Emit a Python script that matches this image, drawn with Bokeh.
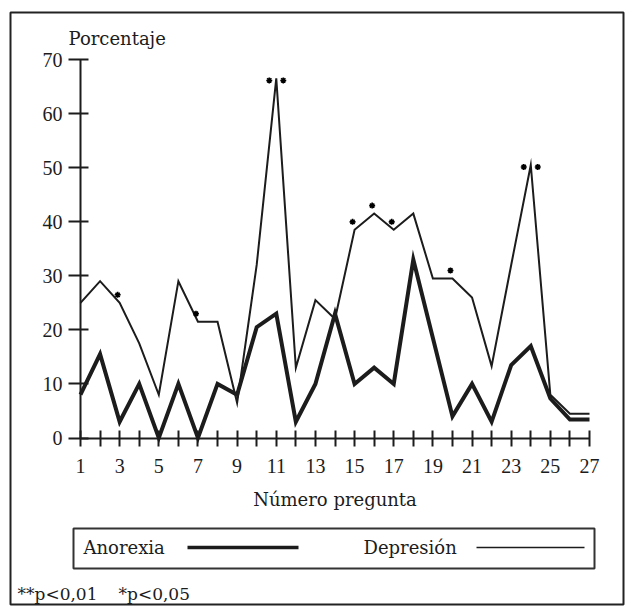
from bokeh.plotting import figure
from bokeh.models import Range1d, FixedTicker, Label, BoxAnnotation, Arrow, ColumnDataSource
from bokeh.embed import file_html
from bokeh.resources import INLINE

# ---- data ----
preguntas = list(range(1, 28))
anorexia = [8, 15.5, 3, 10, 0, 10, 0, 10, 8, 20.5, 23, 3, 10, 23, 10, 13, 10, 33,
            18.5, 4, 10, 3, 13.5, 17, 7.3, 3.4, 3.4]
depresion = [25, 29, 25, 17.5, 8, 29, 21.5, 21.5, 6.5, 32, 66.5, 13, 25.5, 22, 38.5,
             41.5, 38.5, 41.5, 29.5, 29.5, 26, 13.3, 32, 50.5, 8, 4.5, 4.5]
sig_p05 = [3, 7, 15, 16, 17, 20]      # "*"  p<0,05
sig_p01 = [11, 24]                     # "**" p<0,01
y_ticks = [0, 10, 20, 30, 40, 50, 60, 70]
x_tick_labels = {n: (str(n) if n % 2 == 1 else "") for n in preguntas}
y_title = "Porcentaje"
x_title = "Número pregunta"
series_names = ["Anorexia", "Depresión"]
footnotes = ["**p<0,01", "*p<0,05"]

# ---- layout (canvas pixels) ----
W, H = 626, 612
AX_X0, AX_X1 = 80.0, 589.0     # pixel of question 1 and 27
AX_Y0, AX_Y70 = 437.5, 59.0    # pixel of 0 % and 70 %
INK = "#1c1c1c"
WORD_FONT = "DejaVu Serif"
NUM_FONT = "Liberation Serif"

q0, q1 = preguntas[0], preguntas[-1]
ppx = (AX_X1 - AX_X0) / (q1 - q0)
ppy = (AX_Y0 - AX_Y70) / (y_ticks[-1] - y_ticks[0])
x_range = Range1d(q0 - AX_X0 / ppx, q1 + (W - AX_X1) / ppx)
y_range = Range1d(y_ticks[0] - (H - AX_Y0) / ppy, y_ticks[-1] + AX_Y70 / ppy)

p = figure(width=W, height=H, output_backend="svg", toolbar_location=None,
           x_range=x_range, y_range=y_range, min_border=0,
           min_border_left=0, min_border_right=0, min_border_top=0, min_border_bottom=0)
p.background_fill_color = "white"
p.border_fill_color = "white"
p.outline_line_color = None
p.xgrid.visible = False
p.ygrid.visible = False

# x axis (drawn at 0 %)
p.xaxis.fixed_location = y_ticks[0]
p.xaxis.bounds = (q0, q1)
p.xaxis.ticker = FixedTicker(ticks=preguntas, minor_ticks=[])
p.xaxis.major_label_overrides = x_tick_labels
p.xaxis.major_tick_in = 8
p.xaxis.major_tick_out = 8
p.xaxis.major_label_standoff = 13
p.xaxis.axis_label = x_title
p.xaxis.axis_label_standoff = 12
p.xaxis.axis_label_text_font = WORD_FONT
p.xaxis.axis_label_text_font_size = "18px"
p.xaxis.axis_label_text_font_style = "normal"
p.xaxis.axis_label_text_color = INK

# y axis (drawn at question 1)
p.yaxis.fixed_location = q0
p.yaxis.bounds = (y_ticks[0], y_ticks[-1])
p.yaxis.ticker = FixedTicker(ticks=y_ticks, minor_ticks=[])
p.yaxis.major_tick_in = 8
p.yaxis.major_tick_out = 12
p.yaxis.major_label_standoff = 6

for ax in (p.xaxis, p.yaxis):
    ax.minor_tick_in = 0
    ax.minor_tick_out = 0
    ax.axis_line_width = 2
    ax.axis_line_color = INK
    ax.major_tick_line_width = 2
    ax.major_tick_line_color = INK
    ax.major_label_text_font = NUM_FONT
    ax.major_label_text_font_size = "20px"
    ax.major_label_text_color = INK

# series
p.line(preguntas, depresion, line_width=2, line_color=INK, line_join="miter")
p.line(preguntas, anorexia, line_width=4, line_color=INK, line_join="miter")

# significance asterisks (offsets in pixels converted to data units)
ast05 = ColumnDataSource(dict(
    x=[q - 2 / ppx for q in sig_p05],
    y=[depresion[q - 1] + 8 / ppy for q in sig_p05]))
p.scatter(x="x", y="y", source=ast05, marker="asterisk", size=6,
          line_width=1.6, line_color="black")
for dx in (-7, 7):
    ast01 = ColumnDataSource(dict(
        x=[q + dx / ppx for q in sig_p01],
        y=[depresion[q - 1] - 2 / ppy for q in sig_p01]))
    p.scatter(x="x", y="y", source=ast01, marker="asterisk", size=6,
              line_width=1.6, line_color="black")


# helpers: canvas pixel (from top-left) -> screen units (frame = whole canvas)
def sx(cx):
    return cx


def sy(cy):
    return H - cy


def add_label(text, cx, cy, font=WORD_FONT, size="18px"):
    p.add_layout(Label(x=sx(cx), y=sy(cy), x_units="screen", y_units="screen",
                       text=text, text_font=font, text_font_size=size,
                       text_baseline="middle", text_align="left", text_color=INK))


add_label(y_title, 68, 38)

# legend box
p.add_layout(BoxAnnotation(left=sx(73), right=sx(594), top=sy(528), bottom=sy(568),
                           left_units="screen", right_units="screen",
                           top_units="screen", bottom_units="screen",
                           fill_alpha=0, line_color="#333333", line_alpha=1,
                           line_width=2))
add_label(series_names[0], 83, 547)
add_label(series_names[1], 363, 547)
p.add_layout(Arrow(end=None, x_start=sx(187), y_start=sy(547), x_end=sx(298), y_end=sy(547),
                   start_units="screen", end_units="screen", line_width=3.5, line_color=INK))
p.add_layout(Arrow(end=None, x_start=sx(476), y_start=sy(547), x_end=sx(584), y_end=sy(547),
                   start_units="screen", end_units="screen", line_width=1.5, line_color=INK))

# footnotes
add_label(footnotes[0], 17, 593, size="17px")
add_label(footnotes[1], 118, 593, size="17px")

# outer frame
p.add_layout(BoxAnnotation(left=sx(10), right=sx(623), top=sy(12), bottom=sy(604),
                           left_units="screen", right_units="screen",
                           top_units="screen", bottom_units="screen",
                           fill_alpha=0, line_color="#222222", line_alpha=1,
                           line_width=2))

open("out.html", "w").write(file_html(p, INLINE))
